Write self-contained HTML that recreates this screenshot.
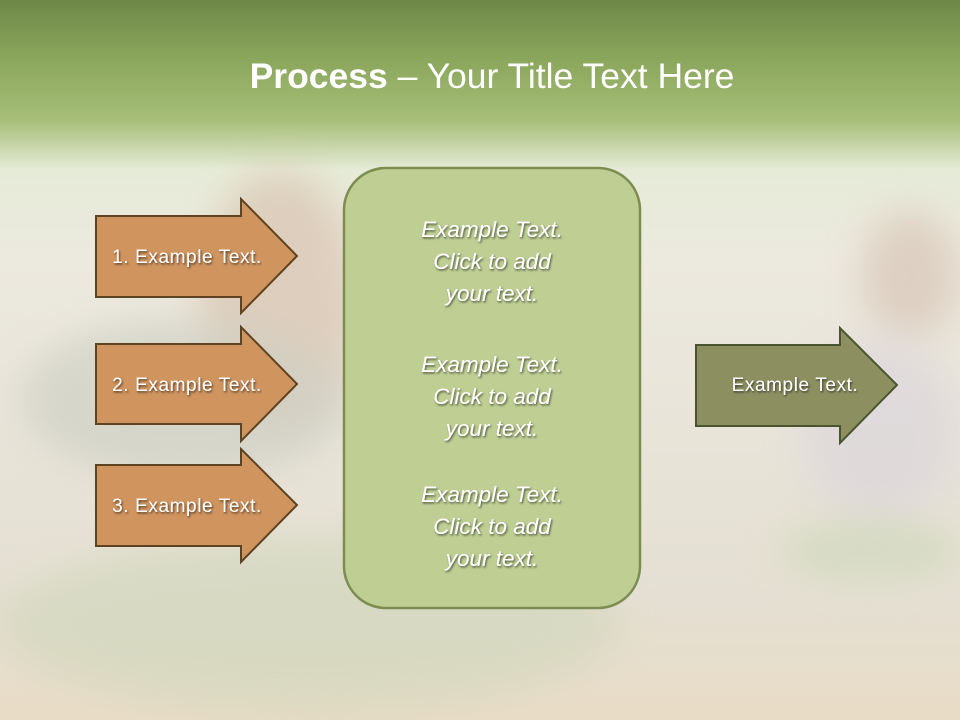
<!DOCTYPE html>
<html><head><meta charset="utf-8"><style>
body{margin:0;width:960px;height:720px;overflow:hidden;font-family:"Liberation Sans",sans-serif}
#bg{position:absolute;left:0;top:0;width:960px;height:720px;
background:linear-gradient(180deg,#6e8848 0px,#8ba75c 60px,#a6be78 120px,#e6ebd8 170px,#ece9df 260px,#e4dfd2 600px,#e9dcc6 720px)}
.blob{position:absolute;border-radius:50%;filter:blur(18px)}
svg{position:absolute;left:0;top:0}
</style></head><body>
<div id="bg"></div>
<div class="blob" style="left:200px;top:170px;width:160px;height:260px;background:#d9c4b0;opacity:.7"></div>
<div class="blob" style="left:20px;top:320px;width:330px;height:160px;background:#cfd0c5;opacity:.7"></div>
<div class="blob" style="left:0px;top:540px;width:620px;height:170px;background:#cfd6ba;opacity:.6"></div>
<div class="blob" style="left:860px;top:210px;width:100px;height:130px;background:#d8c6b8;opacity:.7"></div>
<div class="blob" style="left:800px;top:340px;width:160px;height:180px;background:#dcd6dc;opacity:.7"></div>
<div class="blob" style="left:780px;top:520px;width:180px;height:60px;background:#cfd8bc;opacity:.7"></div>
<svg width="960" height="720">
<defs><filter id="s"><feDropShadow dx="1" dy="1.5" stdDeviation="1" flood-opacity=".6"/></filter></defs>
<text x="492" y="88" text-anchor="middle" font-size="35.5" fill="#fff" font-family="Liberation Sans,sans-serif"><tspan font-weight="bold">Process</tspan> – Your Title Text Here</text>
<g fill="#d0945f" stroke="#5e4322" stroke-width="2">
<polygon points="96,216 241,216 241,199 297,256 241,313 241,297 96,297"/>
<polygon points="96,344 241,344 241,327 297,384 241,441 241,424 96,424"/>
<polygon points="96,465 241,465 241,449 297,505 241,562 241,546 96,546"/>
</g>
<polygon points="696,345 840,345 840,328 897,385 840,443 840,426 696,426" fill="#8c9061" stroke="#4a5530" stroke-width="2"/>
<rect x="344" y="168" width="296" height="440" rx="42" fill="#bfcf94" stroke="#7d8d52" stroke-width="2.5"/>
<g fill="#fff" font-size="19" letter-spacing="0.6" filter="url(#s)" text-anchor="middle">
<text x="187" y="263">1. Example Text.</text>
<text x="187" y="391">2. Example Text.</text>
<text x="187" y="512">3. Example Text.</text>
<text x="795" y="391">Example Text.</text>
</g>
<g fill="#fff" font-size="22.5" font-style="italic" filter="url(#s)" text-anchor="middle">
<text x="492" y="237">Example Text.</text><text x="492" y="269">Click  to add</text><text x="492" y="301">your text.</text>
<text x="492" y="372">Example Text.</text><text x="492" y="404">Click  to add</text><text x="492" y="436">your text.</text>
<text x="492" y="502">Example Text.</text><text x="492" y="534">Click  to add</text><text x="492" y="566">your text.</text>
</g>
</svg>
</body></html>
